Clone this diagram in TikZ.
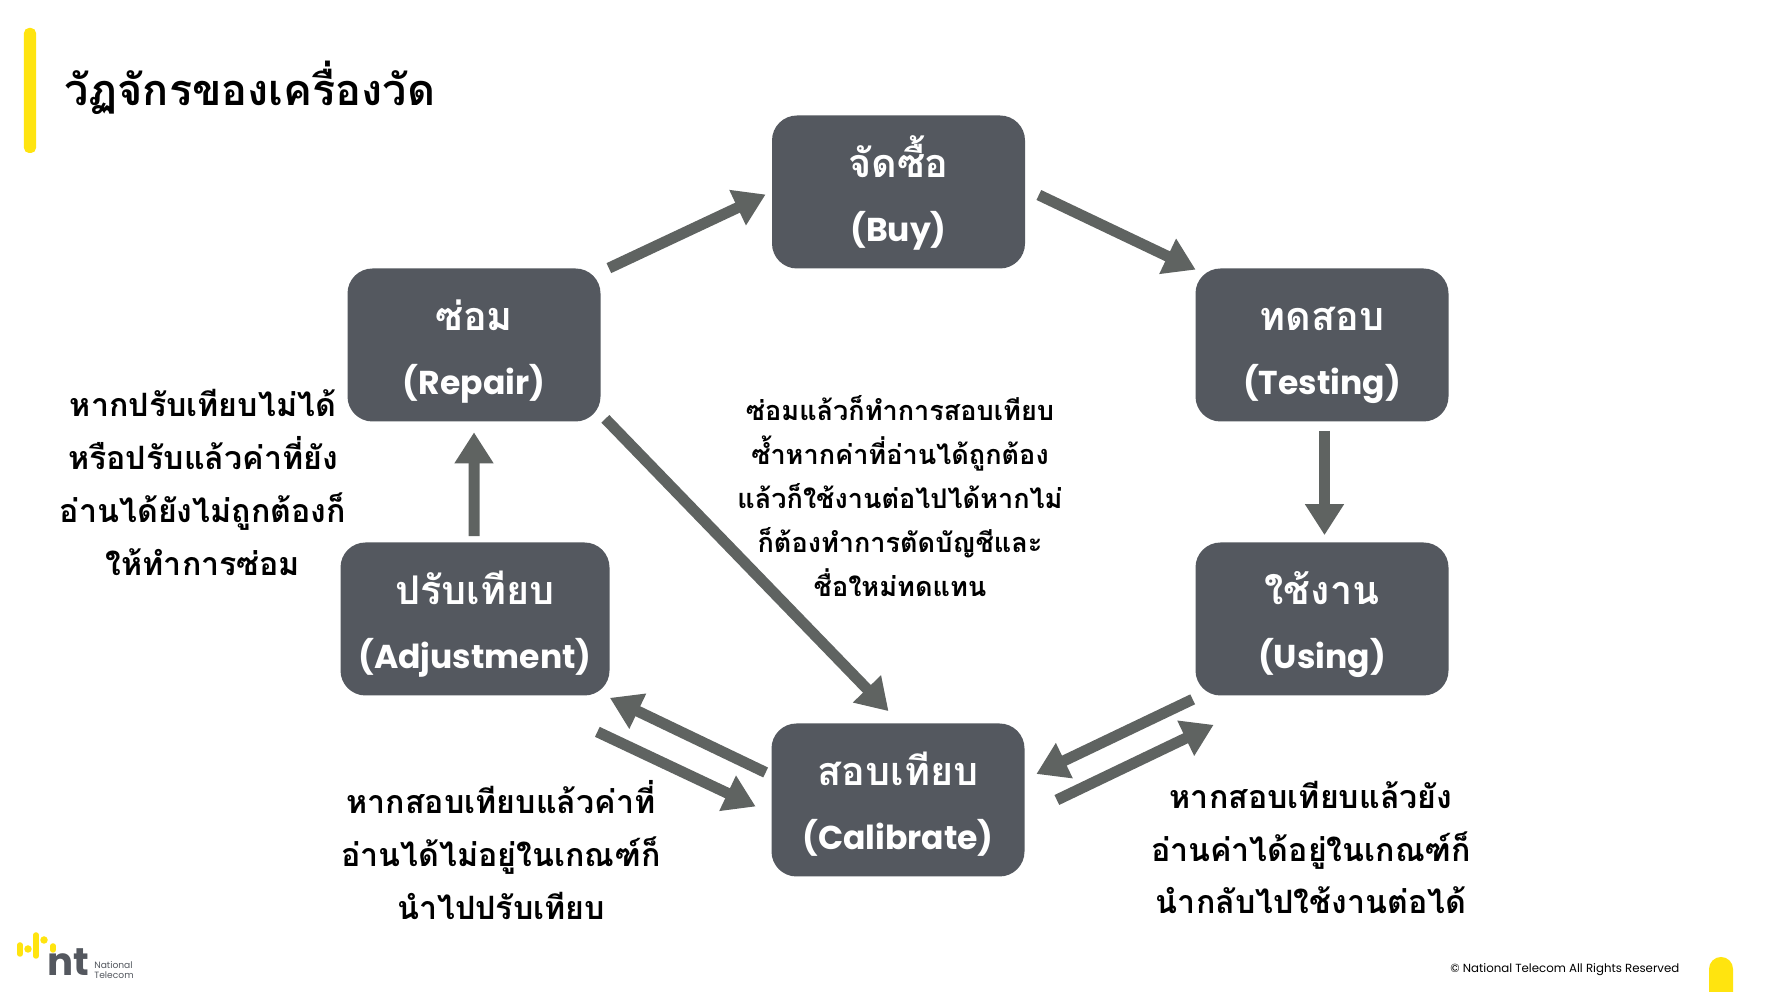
\documentclass[tikz,border=0pt]{standalone}
\usepackage{fontspec}
\usetikzlibrary{arrows.meta}
\setmainfont{Liberation Sans}
\newfontfamily\thaifont[Script=Thai]{Loma}
\newfontfamily\latfont{Poppins}
\definecolor{boxgray}{HTML}{54585F}
\definecolor{arrowgray}{HTML}{5F6361}
\definecolor{ntyellow}{HTML}{FFE40F}
\tikzset{
	stagebox/.style={draw=none,fill=boxgray,rounded corners=0.5cm,text=white,minimum width=5.06cm,minimum height=3.06cm,align=center,inner sep=0pt,font=\fontsize{20}{36}\selectfont},
	flow/.style={draw=arrowgray,line width=0.22cm,-{Triangle[length=0.62cm,width=0.74cm]}},
	sidetext/.style={align=center,inner sep=0pt,font=\thaifont\bfseries\fontsize{18.3}{30}\selectfont},
	midtext/.style={align=center,inner sep=0pt,font=\thaifont\bfseries\fontsize{15.4}{25}\selectfont},
	logobar/.style={draw=ntyellow,line cap=round,line width=0.11cm},
}
\newcommand{\stagetext}[2]{\rule{0pt}{28pt}{\thaifont\bfseries\fontsize{22.5}{24}\selectfont #1}\\{\latfont\bfseries\fontsize{18.8}{24}\selectfont #2}\rule[-8pt]{0pt}{1pt}}
\begin{document}
\begin{tikzpicture}
	\useasboundingbox (0,0) rectangle (35.32,19.84);
	\fill[white] (0,0) rectangle (35.32,19.84);

	\fill[ntyellow,rounded corners=0.1cm] (0.48,16.78) rectangle (0.72,19.28);
	\node (title) at (0.48,18.09)[right,xshift=0.8cm,inner sep=0pt,font=\thaifont\bfseries\fontsize{24.6}{28}\selectfont]{วัฏจักรของเครื่องวัด};

	\node[stagebox] (buy) at (17.97,16.0){\stagetext{จัดซื้อ}{(Buy)}};
	\node[stagebox] (repair) at (9.48,12.94){\stagetext{ซ่อม}{(Repair)}};
	\node[stagebox] (testing) at (26.44,12.94){\stagetext{ทดสอบ}{(Testing)}};
	\node[stagebox,minimum width=5.38cm] (adjust) at (9.5,7.46){\stagetext{ปรับเทียบ}{(Adjustment)}};
	\node[stagebox] (using) at (26.44,7.46){\stagetext{ใช้งาน}{(Using)}};
	\node[stagebox] (calib) at (17.96,3.84){\stagetext{สอบเทียบ}{(Calibrate)}};

	\draw[flow] ([shift={(0.16,0)}]repair.north east)--([shift={(-0.12,-0.05)}]buy.west);
	\draw[flow] ([shift={(0.27,-0.06)}]buy.east)--([shift={(0.01,-0.03)}]testing.north west);
	\draw[flow] ([shift={(0.05,-0.18)}]testing.south)--([shift={(0.05,0.14)}]using.north);
	\draw[flow] ([shift={(-0.05,-0.07)}]using.south west)--([shift={(0.23,0.52)}]calib.east);
	\draw[flow] ([shift={(0.64,0)}]calib.east)--([shift={(0.37,-0.58)}]using.south west);
	\draw[flow] ([shift={(-0.11,0.55)}]calib.west)--([shift={(0,-0.04)}]adjust.south east);
	\draw[flow] ([shift={(-0.25,-0.72)}]adjust.south east)--([shift={(-0.31,-0.13)}]calib.west);
	\draw[flow] ([shift={(-0.02,0.12)}]adjust.north)--([shift={(0,-0.21)}]repair.south);
	\draw[flow] ([shift={(0.09,0.06)}]repair.south east)--([shift={(-0.19,0.24)}]calib.north);

	\node[sidetext] (noteleft) at (4.06,10.19){หากปรับเทียบไม่ได้\\หรือปรับแล้วค่าที่ยัง\\อ่านได้ยังไม่ถูกต้องก็\\ให้ทำการซ่อม};
	\node[midtext] (notemid) at (18.0,9.92){ซ่อมแล้วก็ทำการสอบเทียบ\\ซ้ำหากค่าที่อ่านได้ถูกต้อง\\แล้วก็ใช้งานต่อไปได้หากไม่\\ก็ต้องทำการตัดบัญชีและ\\ชื่อใหม่ทดแทน};
	\node[sidetext] (notebl) at (10.02,2.84){หากสอบเทียบแล้วค่าที่\\อ่านได้ไม่อยู่ในเกณฑ์ก็\\นำไปปรับเทียบ};
	\node[sidetext] (notebr) at (26.22,2.89){หากสอบเทียบแล้วยัง\\อ่านค่าได้อยู่ในเกณฑ์ก็\\นำกลับไปใช้งานต่อได้};

	% logo
	\draw[logobar] (0.4,0.94)--(0.4,0.76);
	\fill[ntyellow] (0.56,0.86) circle (0.075);
	\draw[logobar] (0.72,1.14)--(0.72,0.72);
	\fill[ntyellow] (0.88,1.04) circle (0.075);
	\draw[logobar] (1.06,0.92)--(1.06,0.84);
	\node (ntmark) at (0.94,0.6)[right,inner sep=0pt,text=boxgray,font=\latfont\bfseries\fontsize{22}{22}\selectfont]{nt};
	\node (ntname) at (1.88,0.44)[right,inner sep=0pt,align=left,text=boxgray,font=\latfont\fontsize{5.2}{5.9}\selectfont]{National\\Telecom};

	\node (rights) at (29.0,0.44)[right,inner sep=0pt,font=\latfont\fontsize{6.7}{7}\selectfont]{© National Telecom All Rights Reserved};
	\fill[ntyellow] (34.18,0)--(34.18,0.46) arc[start angle=180,end angle=0,radius=0.24]--(34.66,0)--cycle;
\end{tikzpicture}
\end{document}
